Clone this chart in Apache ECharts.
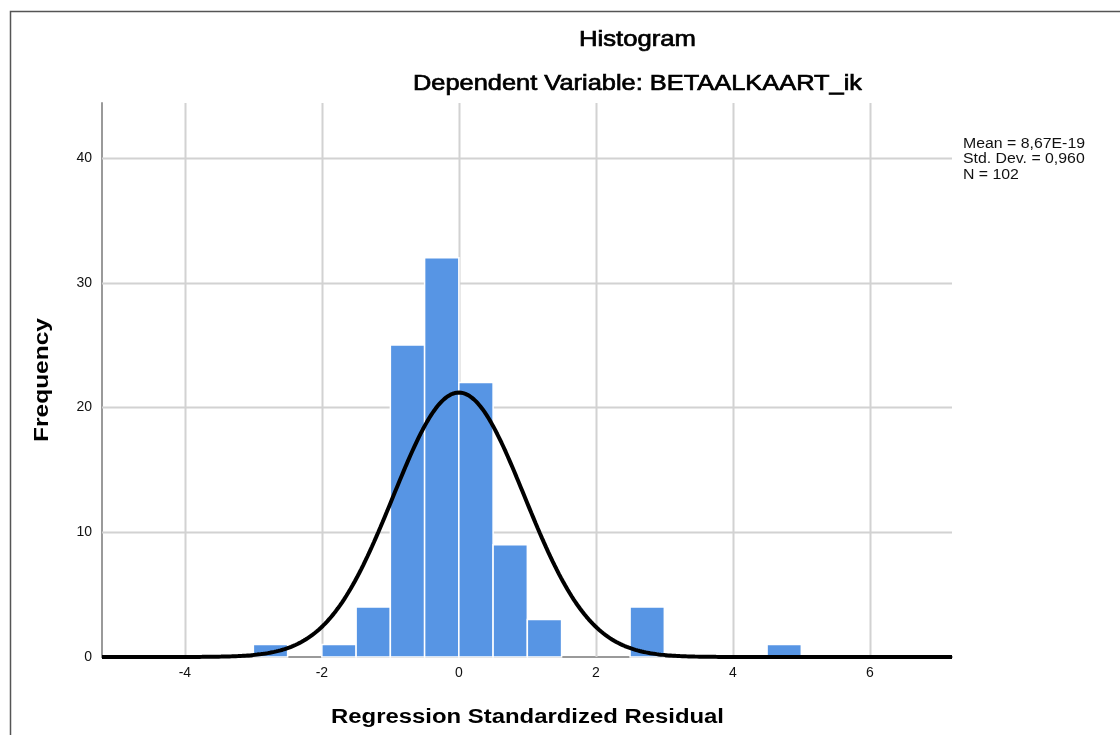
<!DOCTYPE html>
<html>
<head>
<meta charset="utf-8">
<script src="https://cdn.jsdelivr.net/npm/echarts@6/dist/echarts.min.js"></script>
<style>
  html, body { margin: 0; padding: 0; background: #fff; }
  #chart { width: 1120px; height: 735px; }
</style>
</head>
<body>
<div id="chart"></div>
<script>
// Histogram bins of the standardized residuals (bin width 0.5)
const binStarts = [-3.0, -2.0, -1.5, -1.0, -0.5, 0.0, 0.5, 1.0, 2.5, 4.5];
const binCounts = [1, 1, 4, 25, 32, 22, 9, 3, 4, 1];
const binWidth = 0.5;

// Summary statistics shown beside the plot
const statMean = 8.67e-19;
const statSd = 0.960;
const statN = 102;
const statLines = ['Mean = 8,67E-19', 'Std. Dev. = 0,960', 'N = 102'];

// Axis ticks
const xTicks = [-4, -2, 0, 2, 4, 6];
const yTicks = [0, 10, 20, 30, 40];
const xRange = [-5.21, 7.2];
const yMax = 44.4;

const FONT = '"Liberation Sans", Arial, sans-serif';

// Horizontal scale that makes a string span a given width in the given font
const measureCtx = document.createElement('canvas').getContext('2d');
function stretch(text, font, width) {
  measureCtx.font = font;
  return width / measureCtx.measureText(text).width;
}

// Fitted normal curve scaled to counts per bin
const curve = [];
const steps = 400;
for (let i = 0; i <= steps; i++) {
  const x = xRange[0] + (xRange[1] - xRange[0]) * i / steps;
  const z = (x - statMean) / statSd;
  const y = statN * binWidth / (statSd * Math.sqrt(2 * Math.PI)) * Math.exp(-0.5 * z * z);
  curve.push([x, y]);
}

const bars = binStarts.map((s, i) => [s, s + binWidth, binCounts[i]]);

const titleFont = '22px ' + FONT;
const subFont = '22px ' + FONT;
const axisFont = 'bold 20px ' + FONT;
const statFont = '14px ' + FONT;

// semi-bold look for the titles: regular face with a thin outline
const texts = [
  { text: 'Histogram', font: titleFont, w: 117, x: 637.5, y: 40, rot: 0, stroke: 0.7 },
  { text: 'Dependent Variable: BETAALKAART_ik', font: subFont, w: 449, x: 637.5, y: 84, rot: 0, stroke: 0.7 },
  { text: 'Regression Standardized Residual', font: axisFont, w: 393, x: 527.5, y: 717, rot: 0, stroke: 0 },
  { text: 'Frequency', font: axisFont, w: 124, x: 42, y: 380, rot: Math.PI / 2, stroke: 0 }
];

const graphics = [
  { type: 'rect', z: -10, silent: true,
    shape: { x: 10.5, y: 11.5, width: 1300, height: 900 },
    style: { fill: 'none', stroke: '#555', lineWidth: 1.5 } }
];
texts.forEach(t => {
  const style = { text: t.text, fill: '#000', font: t.font, align: 'center', verticalAlign: 'middle' };
  if (t.stroke) { style.stroke = '#000'; style.lineWidth = t.stroke; }
  graphics.push({
    type: 'text', silent: true, x: t.x, y: t.y, rotation: t.rot,
    scaleX: stretch(t.text, t.font, t.w), scaleY: 1, style
  });
});
const statScale = stretch(statLines[0], statFont, 122);
statLines.forEach((line, i) => {
  graphics.push({
    type: 'text', silent: true, x: 963, y: 144 + i * 15.5, scaleX: statScale,
    style: { text: line, fill: '#111', font: statFont, align: 'left', verticalAlign: 'middle' }
  });
});

const chart = echarts.init(document.getElementById('chart'), null, { renderer: 'canvas' });

chart.setOption({
  animation: false,
  backgroundColor: '#ffffff',
  grid: { left: 102, right: 168, top: 103, bottom: 78 },
  xAxis: {
    type: 'value',
    min: xRange[0],
    max: xRange[1],
    axisLine: { show: true, onZero: false, lineStyle: { color: '#9a9a9a', width: 2 } },
    axisTick: { show: false },
    splitLine: { show: false },
    axisLabel: {
      customValues: xTicks,
      color: '#111',
      fontFamily: FONT,
      fontSize: 14,
      margin: 9,
      formatter: v => String(v)
    }
  },
  yAxis: {
    type: 'value',
    min: 0,
    max: yMax,
    axisLine: { show: true, onZero: false, lineStyle: { color: '#9a9a9a', width: 2 } },
    axisTick: { show: false },
    splitLine: { show: false },
    axisLabel: {
      customValues: yTicks,
      color: '#111',
      fontFamily: FONT,
      fontSize: 14,
      margin: 10
    }
  },
  graphic: graphics,
  series: [
    {
      // grid lines at tick positions
      type: 'custom',
      silent: true,
      z: 1,
      data: [0],
      renderItem: (params, api) => {
        const children = [];
        const x0 = api.coord([xRange[0], 0])[0];
        const x1 = api.coord([xRange[1], 0])[0];
        const yTop = api.coord([0, yMax])[1];
        const yBot = api.coord([0, 0])[1];
        xTicks.forEach(t => {
          const px = Math.round(api.coord([t, 0])[0]) + 0.5;
          children.push({ type: 'line', shape: { x1: px, y1: yTop, x2: px, y2: yBot },
            style: { stroke: '#d2d2d2', lineWidth: 2 } });
        });
        yTicks.filter(t => t > 0).forEach(t => {
          const py = Math.round(api.coord([0, t])[1]) + 0.5;
          children.push({ type: 'line', shape: { x1: x0, y1: py, x2: x1, y2: py },
            style: { stroke: '#d2d2d2', lineWidth: 2 } });
        });
        return { type: 'group', children };
      }
    },
    {
      type: 'custom',
      z: 2,
      data: bars,
      encode: { x: [0, 1], y: 2 },
      renderItem: (params, api) => {
        const a = api.coord([api.value(0), api.value(2)]);
        const b = api.coord([api.value(1), 0]);
        return {
          type: 'rect',
          shape: { x: a[0], y: a[1], width: b[0] - a[0], height: b[1] - a[1] },
          style: { fill: '#5795e4', stroke: '#ffffff', lineWidth: 1.5 }
        };
      }
    },
    {
      type: 'line',
      z: 3,
      data: curve,
      showSymbol: false,
      smooth: false,
      lineStyle: { color: '#000', width: 4 },
      silent: true
    }
  ]
});
</script>
</body>
</html>
